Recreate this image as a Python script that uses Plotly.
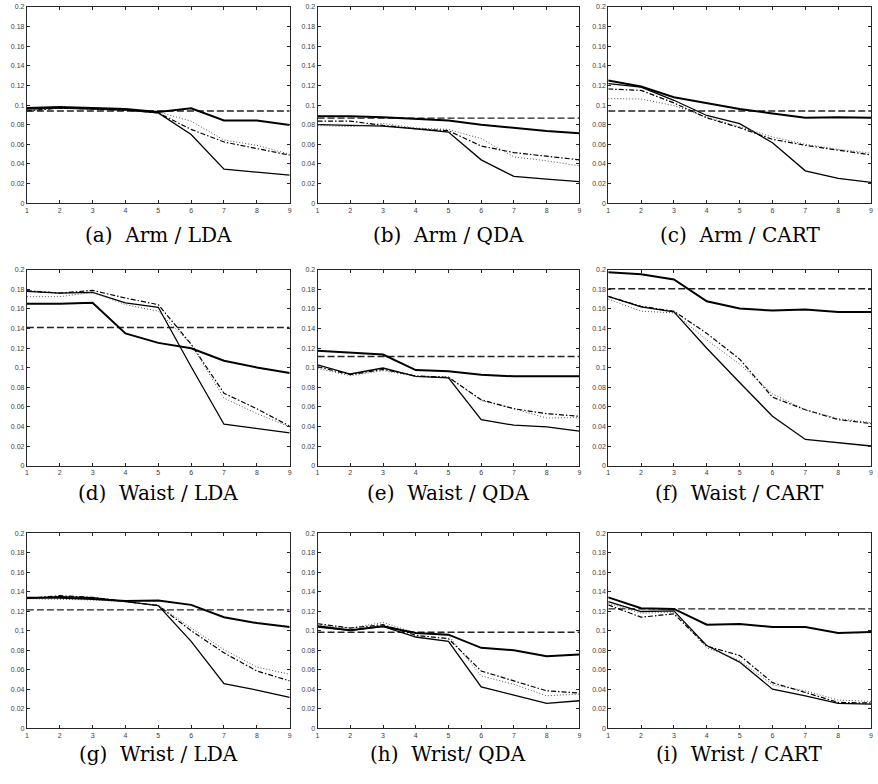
import plotly.graph_objects as go

x_vals = [1, 2, 3, 4, 5, 6, 7, 8, 9]
panel_titles = ["(a)\u00a0 Arm / LDA", "(b)\u00a0 Arm / QDA", "(c)\u00a0 Arm / CART",
                "(d)\u00a0 Waist / LDA", "(e)\u00a0 Waist / QDA", "(f)\u00a0 Waist / CART",
                "(g)\u00a0 Wrist / LDA", "(h)\u00a0 Wrist/ QDA", "(i)\u00a0 Wrist / CART"]

baseline = [0.0940, 0.0867, 0.0940,
            0.1410, 0.1114, 0.1805,
            0.1215, 0.0985, 0.1225]

thick_solid = [
    [0.097, 0.098, 0.097, 0.096, 0.093, 0.0968, 0.0843, 0.0843, 0.0796],
    [0.0887, 0.0887, 0.0877, 0.0863, 0.0843, 0.0800, 0.0769, 0.0735, 0.0712],
    [0.125, 0.119, 0.108, 0.102, 0.0961, 0.0914, 0.0870, 0.0877, 0.0870],
    [0.1653, 0.1653, 0.1663, 0.1350, 0.1253, 0.1199, 0.1071, 0.1003, 0.0946],
    [0.1172, 0.1155, 0.1135, 0.0976, 0.0963, 0.0929, 0.0912, 0.0912, 0.0912],
    [0.1973, 0.1953, 0.1900, 0.1677, 0.1603, 0.1582, 0.1593, 0.1569, 0.1569],
    [0.1340, 0.1340, 0.1327, 0.1306, 0.1310, 0.1266, 0.1140, 0.1080, 0.1039],
    [0.1046, 0.1005, 0.1046, 0.0978, 0.0961, 0.0826, 0.0802, 0.0741, 0.0758],
    [0.1343, 0.1232, 0.1225, 0.1063, 0.1069, 0.1039, 0.1039, 0.0978, 0.0988],
]

thin_solid = [
    [0.096, 0.097, 0.096, 0.095, 0.092, 0.0700, 0.0347, 0.0320, 0.0287],
    [0.0800, 0.0793, 0.0786, 0.0759, 0.0725, 0.0442, 0.0273, 0.0246, 0.0219],
    [0.1218, 0.1184, 0.1049, 0.0894, 0.0810, 0.0617, 0.0330, 0.0253, 0.0212],
    [0.1778, 0.1761, 0.1768, 0.1660, 0.1616, 0.1010, 0.0424, 0.0380, 0.0337],
    [0.1030, 0.0936, 0.0997, 0.0912, 0.0896, 0.0471, 0.0414, 0.0397, 0.0354],
    [0.1727, 0.1620, 0.1569, 0.1199, 0.0850, 0.0505, 0.0269, 0.0236, 0.0202],
    [0.1333, 0.1350, 0.1340, 0.1300, 0.1259, 0.0893, 0.0460, 0.0393, 0.0318],
    [0.1039, 0.1005, 0.1046, 0.0937, 0.0893, 0.0426, 0.0342, 0.0257, 0.0284],
    [0.1300, 0.1198, 0.1205, 0.0849, 0.0680, 0.0403, 0.0335, 0.0257, 0.0250],
]

dotted = [
    [0.095, 0.097, 0.096, 0.095, 0.093, 0.0836, 0.0644, 0.0590, 0.0499],
    [0.0793, 0.0780, 0.0813, 0.0766, 0.0752, 0.0658, 0.0472, 0.0432, 0.0381],
    [0.1066, 0.1062, 0.0995, 0.0877, 0.0779, 0.0675, 0.0600, 0.0550, 0.0509],
    [0.1724, 0.1724, 0.1768, 0.1643, 0.1576, 0.1239, 0.0690, 0.0532, 0.0397],
    [0.0993, 0.0919, 0.0970, 0.0912, 0.0909, 0.0667, 0.0582, 0.0488, 0.0492],
    [0.1700, 0.1576, 0.1559, 0.1283, 0.1037, 0.0734, 0.0572, 0.0481, 0.0441],
    [0.1330, 0.1323, 0.1316, 0.1300, 0.1266, 0.1029, 0.0809, 0.0629, 0.0555],
    [0.1056, 0.1029, 0.1086, 0.0978, 0.0954, 0.0538, 0.0453, 0.0335, 0.0352],
    [0.1283, 0.1181, 0.1191, 0.0826, 0.0697, 0.0447, 0.0386, 0.0291, 0.0277],
]

dash_dot = [
    [0.094, 0.097, 0.096, 0.095, 0.092, 0.0752, 0.0624, 0.0560, 0.0490],
    [0.0836, 0.0836, 0.0793, 0.0759, 0.0739, 0.0583, 0.0516, 0.0482, 0.0442],
    [0.1164, 0.1150, 0.1022, 0.0870, 0.0769, 0.0651, 0.0590, 0.0540, 0.0492],
    [0.1785, 0.1761, 0.1788, 0.1710, 0.1643, 0.1240, 0.0740, 0.0582, 0.0404],
    [0.1010, 0.0929, 0.0983, 0.0916, 0.0902, 0.0673, 0.0582, 0.0532, 0.0505],
    [0.1727, 0.1626, 0.1576, 0.1350, 0.1088, 0.0700, 0.0572, 0.0471, 0.0431],
    [0.1333, 0.1360, 0.1343, 0.1300, 0.1259, 0.1002, 0.0775, 0.0589, 0.0487],
    [0.1073, 0.1029, 0.1063, 0.0954, 0.0920, 0.0589, 0.0487, 0.0386, 0.0362],
    [0.1266, 0.1140, 0.1174, 0.0843, 0.0748, 0.0470, 0.0369, 0.0267, 0.0261],
]

y_ticks = [0, 0.02, 0.04, 0.06, 0.08, 0.1, 0.12, 0.14, 0.16, 0.18, 0.2]
y_ticktext = ["0", "0.02", "0.04", "0.06", "0.08", "0.1", "0.12", "0.14", "0.16", "0.18", "0.2"]

W, H = 878, 784
col_px = [(25, 289), (317, 580), (609, 873)]
row_px = [(3, 201), (268, 466), (534, 731)]
caption_px = [233, 493, 757]

fig = go.Figure()
axis_color = "#262626"

for i in range(9):
    r, c = divmod(i, 3)
    n = "" if i == 0 else str(i + 1)
    xa, ya = "x" + n, "y" + n
    series = [
        (thin_solid[i], dict(color="black", width=1.3, dash="solid")),
        (dotted[i], dict(color="#555555", width=1.0, dash="1px,2px")),
        (dash_dot[i], dict(color="black", width=1.2, dash="5px,2px,1.5px,2px")),
        (thick_solid[i], dict(color="black", width=2.0, dash="solid")),
    ]
    fig.add_trace(go.Scatter(x=[x_vals[0], x_vals[-1]], y=[baseline[i], baseline[i]],
                             mode="lines", line=dict(color="#222222", width=1.4, dash="7px,3px"),
                             xaxis=xa, yaxis=ya, showlegend=False, hoverinfo="skip"))
    for vals, ln in series:
        fig.add_trace(go.Scatter(x=x_vals, y=vals, mode="lines", line=ln,
                                 xaxis=xa, yaxis=ya, showlegend=False))
    x0, x1 = col_px[c]
    y0, y1 = row_px[r]
    common = dict(showgrid=False, zeroline=False, showline=True, linecolor=axis_color,
                  linewidth=1, mirror="ticks", ticks="inside", ticklen=3,
                  tickcolor=axis_color, ticklabeloverflow="allow",
                  tickfont=dict(family="Liberation Sans, Arial", size=7, color="#404040"))
    fig.layout["xaxis" + n] = dict(domain=[x0 / W, x1 / W], anchor=ya, range=[1, 9],
                                   tickvals=x_vals, **common)
    fig.layout["yaxis" + n] = dict(domain=[1 - y1 / H, 1 - y0 / H], anchor=xa, range=[0, 0.2],
                                   tickvals=y_ticks, ticktext=y_ticktext, **common)
    fig.add_annotation(text=panel_titles[i], x=(x0 + x1) / 2 / W, y=1 - caption_px[r] / H,
                       xref="paper", yref="paper", showarrow=False, xanchor="center", yanchor="middle",
                       font=dict(family="DejaVu Serif, Liberation Serif, serif", size=20, color="black"))

fig.update_layout(width=W, height=H, margin=dict(l=0, r=0, t=0, b=0),
                  paper_bgcolor="white", plot_bgcolor="white")
fig.write_html("out.html", config={"displayModeBar": False},
               post_script="document.body.style.margin='0px';")
